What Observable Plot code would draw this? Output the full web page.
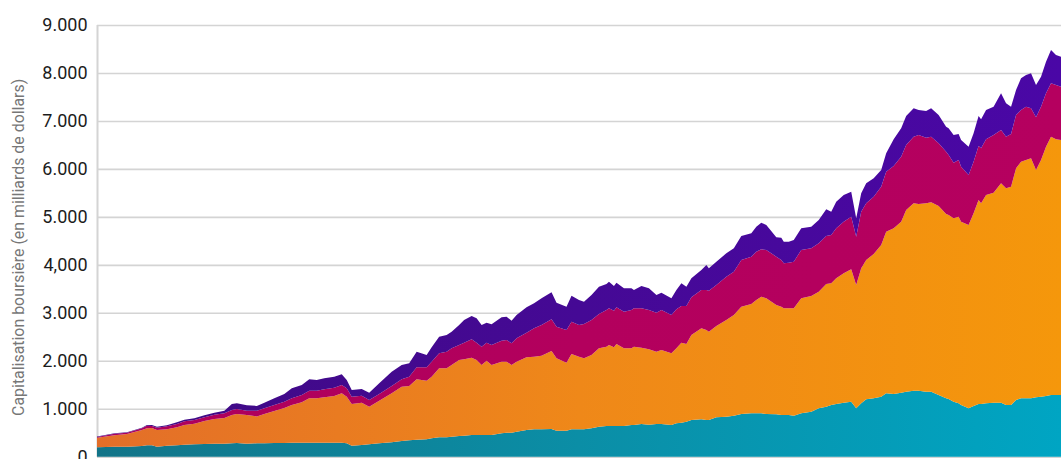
<!DOCTYPE html>
<html>
<head>
<meta charset="utf-8">
<script src="https://cdn.jsdelivr.net/npm/d3@7"></script>
<script src="https://cdn.jsdelivr.net/npm/@observablehq/plot@0.6"></script>
<style>
  html, body { margin: 0; padding: 0; background: #fff; overflow: hidden; }
  #chart { width: 1061px; height: 459px; }
</style>
</head>
<body>
<div id="chart"></div>
<script>
// Période (index de mois)
const mois = [0,7,12,18,20,22,24,28,32,35,39,43,47,51,54,56,60,64,67,71,75,78,82,85,88,91,95,98,100,102,106,109,113,118,122,125,128,132,134,137,140,142,145,147,150,152,154,156,158,162,164,166,168,172,175,178,182,184,188,190,193,195,198,201,204,205,207,208,211,214,215,218,221,224,226,230,232,234,236,238,242,244,245,248,252,255,258,262,264,266,268,272,274,275,277,279,282,286,289,292,294,296,299,302,304,306,308,311,314,316,319,322,324,327,329,332,334,337,340,341,343,345,346,349,351,353,354,356,359,362,364,366,368,370,372,374,376,378,380,382,384,386];

// Capitalisation (milliards de dollars) par série, empilée de bas en haut
const serieBleue = [196,209,209,223,238,238,209,229,238,250,259,265,271,271,279,286,271,279,279,286,286,292,292,292,292,292,292,292,279,229,244,259,279,300,327,342,354,363,384,404,404,417,432,438,452,452,452,452,452,488,500,500,521,557,571,571,577,542,542,571,571,571,592,626,640,640,640,640,640,661,661,682,667,682,682,661,696,709,730,765,780,765,765,822,834,855,890,905,905,905,890,884,869,869,869,855,905,938,1009,1043,1078,1099,1126,1147,1009,1113,1197,1218,1251,1322,1307,1334,1355,1376,1376,1355,1355,1286,1218,1203,1147,1113,1078,1009,1057,1099,1099,1113,1126,1126,1078,1078,1182,1218,1218,1218,1238,1251,1266,1286,1286,1286];
const serieOrange = [200,237,264,334,354,360,348,342,375,411,429,479,515,536,590,604,598,560,611,667,729,786,842,926,926,946,974,1030,972,870,882,784,889,1022,1133,1132,1260,1222,1284,1439,1439,1495,1584,1593,1612,1564,1460,1550,1460,1493,1481,1412,1460,1515,1514,1535,1627,1510,1418,1570,1514,1481,1528,1634,1654,1689,1641,1710,1620,1599,1633,1591,1572,1507,1543,1495,1564,1668,1620,1772,1897,1877,1841,1903,2016,2099,2238,2279,2362,2431,2413,2279,2259,2225,2225,2239,2398,2413,2431,2558,2537,2621,2698,2760,2571,2815,2904,3008,3163,3369,3455,3566,3789,3907,3893,3928,3949,3941,3842,3837,3824,3891,3822,3822,4018,4253,4184,4343,4378,4574,4518,4552,4831,4933,4968,5004,4740,4935,5198,5386,5332,5317];
const serieMagenta = [15,34,27,35,54,42,48,63,69,77,77,77,90,98,105,105,90,120,119,125,132,140,152,158,158,167,173,173,175,152,146,139,139,152,154,194,250,279,313,313,346,348,313,346,384,361,382,375,417,438,452,452,488,513,592,640,661,659,682,674,661,715,730,715,765,765,763,765,763,799,800,821,820,813,834,798,813,765,792,786,799,834,855,855,903,903,973,986,1007,988,1007,1007,973,938,951,972,1007,994,1009,1001,1007,1042,1076,1097,1007,1180,1182,1195,1216,1251,1299,1355,1355,1389,1438,1368,1368,1307,1299,1250,1159,1182,1147,1042,1076,1126,1147,1162,1203,1112,1076,1098,1111,1078,1112,1042,1098,1112,1113,1113,1132,1112];
const serieViolette = [10,8,9,11,15,21,21,21,35,33,36,42,41,54,125,118,113,100,117,140,160,208,209,238,223,230,229,223,173,140,139,152,223,298,298,279,325,256,300,346,348,346,417,473,486,509,452,417,432,487,486,472,485,530,521,557,563,500,486,542,521,465,521,570,542,555,515,513,488,452,382,465,452,369,360,349,403,473,403,397,417,521,467,486,488,488,501,488,522,555,521,404,465,451,438,452,453,451,486,556,486,555,556,521,384,384,417,384,348,384,557,592,604,592,522,557,592,590,522,557,577,542,556,591,592,625,605,611,591,765,696,570,522,661,660,730,674,625,659,695,625,625];

const seriesNoms = ["bleu", "orange", "magenta", "violet"];
const yTicks = [0, 1000, 2000, 3000, 4000, 5000, 6000, 7000, 8000, 9000];
const yTickLabels = ["0", "1.000", "2.000", "3.000", "4,000", "5.000", "6.000", "7.000", "8.000", "9.000"];
const yTitre = "Capitalisation boursière (en milliards de dollars)";

// Gradient colours (left -> right)
const degrades = {
  bleu: ["#127488", "#0b8ea6", "#00a5c3"],
  orange: ["#e36e29", "#ef8819", "#f5970b"],
  magenta: ["#ad005c", "#b3005d", "#b5005f"],
  violet: ["#3f0a84", "#450995", "#4a07a6"]
};

const valeurs = [serieBleue, serieOrange, serieMagenta, serieViolette];
const data = [];
seriesNoms.forEach((s, k) => {
  mois.forEach((m, i) => data.push({mois: m, serie: s, valeur: valeurs[k][i]}));
});

const svg = Plot.plot({
  width: 1061,
  height: 459,
  marginLeft: 97,
  marginRight: 0,
  marginTop: 25,
  marginBottom: 2.3,
  style: {fontFamily: "Roboto, sans-serif", color: "#1c1c1c", background: "#fff"},
  x: {domain: [0, 386], axis: null},
  y: {domain: [0, 9000]},
  color: {type: "identity"},
  marks: [
    Plot.gridY(yTicks, {stroke: "#d4d4d4", strokeOpacity: 1, strokeWidth: 1.6}),
    Plot.ruleX([0], {stroke: "#d4d4d4", strokeWidth: 2}),
    Plot.areaY(data, {
      x: "mois",
      y: "valeur",
      z: "serie",
      fill: d => `url(#grad-${d.serie})`,
      order: seriesNoms
    }),
    Plot.axisY(yTicks, {
      tickSize: 0,
      tickPadding: 10,
      fontSize: 18,
      tickFormat: d => yTickLabels[yTicks.indexOf(d)],
      label: null
    }),
    Plot.text([yTitre], {
      frameAnchor: "left",
      textAnchor: "middle",
      rotate: -90,
      dx: -79,
      dy: 6,
      fontSize: 15.9,
      fill: "#777"
    })
  ]
});

const defs = d3.select(svg).insert("defs", ":first-child");
for (const s of seriesNoms) {
  const g = defs.append("linearGradient")
    .attr("id", `grad-${s}`)
    .attr("x1", "0").attr("x2", "1").attr("y1", "0").attr("y2", "0");
  const c = degrades[s];
  c.forEach((col, i) => g.append("stop")
    .attr("offset", i / (c.length - 1))
    .attr("stop-color", col));
}

document.getElementById("chart").appendChild(svg);
</script>
</body>
</html>
